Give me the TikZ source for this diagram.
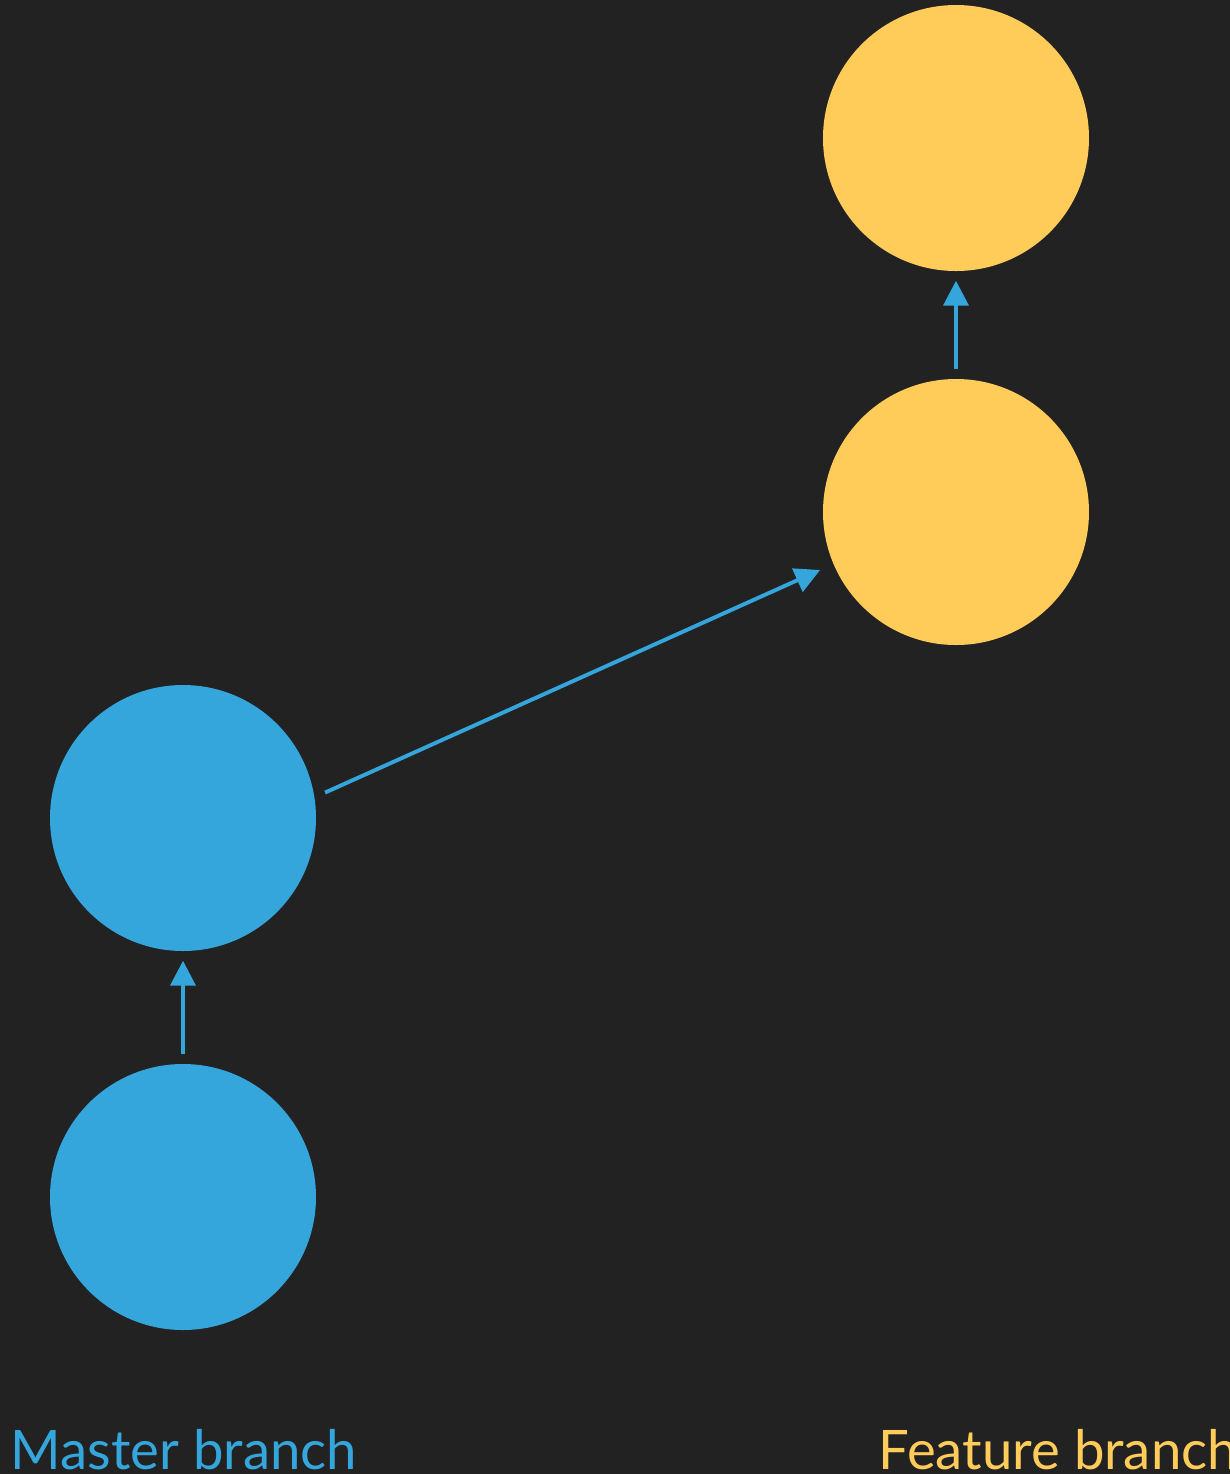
\documentclass[tikz,border=0pt]{standalone}
\usepackage{fontspec}
\setmainfont{Lato}
\usepackage{tikz}
\usetikzlibrary{arrows.meta}

\definecolor{bgdark}{HTML}{222222}
\definecolor{masterblue}{HTML}{34A6DC}
\definecolor{featureyellow}{HTML}{FFCC5A}

\tikzset{
  commit/.style={circle, inner sep=0pt, minimum size=2.66cm},
  link/.style={draw, color=masterblue, line width=1.1pt, -{Triangle[length=0.25cm, width=0.25cm]}},
  branchlabel/.style={anchor=base west, inner sep=0pt, font=\fontsize{15.5}{18}\selectfont}
}

\begin{document}
\begin{tikzpicture}
\fill[bgdark] (0,0) rectangle (12.30,-14.74);
\useasboundingbox (0,0) rectangle (12.30,-14.74);
%\tikzstyle{commit}=[circle,fill=blue,minimum size=2cm]
\begin{scope}
    \node[commit, fill=masterblue] (m1) at (1.83,-11.97) {};
    \node[commit, fill=masterblue] (m2) at (1.83,-8.18) {};
    \node[commit, fill=featureyellow] (f1) at (9.56,-5.12) {};
    \node[commit, fill=featureyellow] (f2) at (9.56,-1.38) {};

    \path (m1) edge[link, shorten <=0.09cm, shorten >=0.09cm] (m2);
    \path (m2.9) edge[link, shorten <=0.11cm, shorten >=0.14cm] (f1.203);
    \path (f1) edge[link, shorten <=0.09cm, shorten >=0.09cm] (f2);
\end{scope}
\node[branchlabel, text=masterblue] (master) at (0.10,-14.69) {Master branch};
\node[branchlabel, text=featureyellow] (feature) at (8.78,-14.69) {Feature branch};
\end{tikzpicture}
\end{document}
